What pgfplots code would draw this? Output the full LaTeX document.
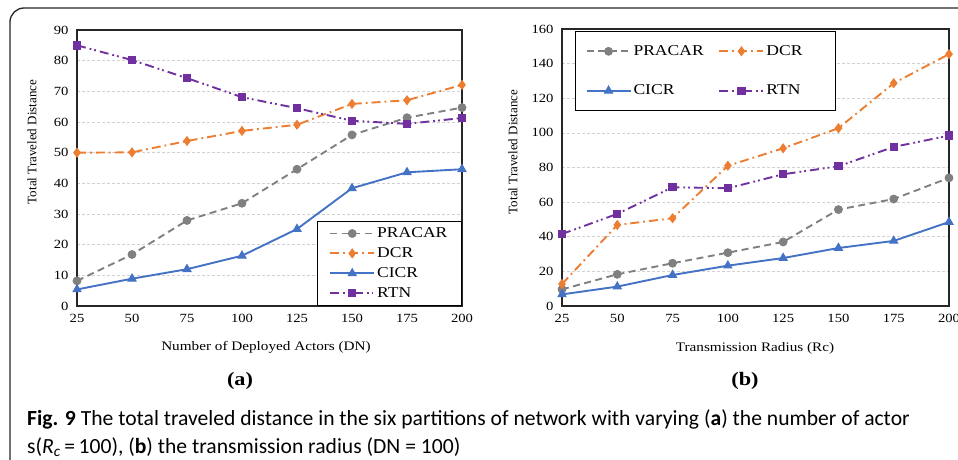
\documentclass[border=0pt]{standalone}
\usepackage{pgfplots}
\pgfplotsset{compat=1.18}
\usepackage{fontspec}
\setmainfont{Liberation Serif}
\newfontfamily\hfont[FakeStretch=1.17]{Liberation Serif}
\newfontfamily\capfont{Carlito}
\definecolor{cgray}{RGB}{128,128,128}
\definecolor{corange}{RGB}{237,125,49}
\definecolor{cblue}{RGB}{68,114,196}
\definecolor{cpurple}{RGB}{112,48,160}
\pgfplotsset{
 mystyle/.style={scale only axis, xmin=25, xmax=200, ymin=0,
   xtick={25,50,...,200}, ymajorgrids,
   grid style={dash pattern=on 3pt off 2pt, black!18, line width=0.6pt},
   major tick length=0, axis line style={line width=1.2pt, black!85},
   tick label style={font=\hfont\fontsize{12.5}{14}\selectfont, /pgf/number format/assume math mode=true},
   xticklabel style={yshift=-5pt}, yticklabel style={xshift=-5pt},
   clip=false,
   legend image code/.code={\draw[mark repeat=2,mark phase=2] plot coordinates {(0pt,0pt)(22pt,0pt)(44pt,0pt)};},
   legend cell align=left},
 sPR/.style={cgray, line width=1.9pt, dash pattern=on 7pt off 4.5pt, mark=*, mark size=3.9pt, mark options={solid, fill=cgray, line width=1pt}},
 sDC/.style={corange, line width=1.9pt, dash pattern=on 9pt off 4pt on 1.8pt off 4pt, mark=diamond*, mark size=4.3pt, mark options={solid, fill=corange, line width=1pt}},
 sCI/.style={cblue, line width=1.9pt, solid, mark=triangle*, mark size=4.6pt, mark options={solid, fill=cblue, line width=1pt}},
 sRT/.style={cpurple, line width=1.9pt, dash pattern=on 9pt off 4pt on 1.8pt off 3pt on 1.8pt off 4pt, mark=square*, mark size=3.7pt, mark options={solid, fill=cpurple, line width=1pt}},
}
\begin{document}
\begin{tikzpicture}
\useasboundingbox (0pt,0pt) rectangle (958pt,459pt);
\clip (0pt,0pt) rectangle (958pt,459pt);
\draw[line width=1.3pt, black!85, rounded corners=14pt] (10pt,-40pt) -- (10pt,451pt) -- (1000pt,451pt);

% ---------- panel (a)
\begin{axis}[mystyle, at={(77pt,153pt)}, anchor=south west, width=385pt, height=276pt,
  ymax=90, ytick={0,10,...,90},
  legend style={at={(1,0)}, anchor=south east, draw=black, line width=1.2pt, fill=white,
    font=\hfont\fontsize{15}{17}\selectfont, row sep=4.5pt, inner xsep=12pt, inner ysep=4.5pt}]
\addplot[sPR] coordinates {(25,8.2)(50,16.8)(75,27.9)(100,33.5)(125,44.6)(150,55.8)(175,61.4)(200,64.7)};
\addlegendentry{PRACAR}
\addplot[sDC] coordinates {(25,50)(50,50.1)(75,53.8)(100,57.1)(125,59.1)(150,65.9)(175,67.1)(200,72.1)};
\addlegendentry{DCR}
\addplot[sCI] coordinates {(25,5.4)(50,8.9)(75,12)(100,16.4)(125,25.1)(150,38.4)(175,43.6)(200,44.6)};
\addlegendentry{CICR}
\addplot[sRT] coordinates {(25,85)(50,80.2)(75,74.3)(100,68.1)(125,64.5)(150,60.4)(175,59.4)(200,61.3)};
\addlegendentry{RTN}
\end{axis}

% ---------- panel (b)
\begin{axis}[mystyle, at={(562pt,153pt)}, anchor=south west, width=387pt, height=277pt,
  ymax=160, ytick={0,20,...,160},
  legend columns=2,
  legend style={at={(0,1)}, anchor=north west, xshift=13pt, yshift=-2pt, draw=black, line width=1.2pt, fill=white,
    font=\hfont\fontsize{15}{17}\selectfont, row sep=24pt, inner xsep=10pt, inner ysep=12pt}]
\addplot[sPR] coordinates {(25,9.6)(50,18.3)(75,24.7)(100,30.8)(125,37)(150,55.7)(175,61.8)(200,74)};
\addlegendentry{\makebox[83pt][l]{PRACAR}}
\addplot[sDC] coordinates {(25,12.7)(50,46.8)(75,50.7)(100,81)(125,91.1)(150,102.7)(175,128.7)(200,145.5)};
\addlegendentry{\makebox[57pt][l]{DCR}}
\addplot[sCI] coordinates {(25,6.7)(50,11.2)(75,17.9)(100,23.3)(125,27.7)(150,33.5)(175,37.6)(200,48.5)};
\addlegendentry{\makebox[83pt][l]{CICR}}
\addplot[sRT] coordinates {(25,41.6)(50,53.2)(75,68.6)(100,68)(125,76.1)(150,80.7)(175,91.9)(200,98.4)};
\addlegendentry{\makebox[57pt][l]{RTN}}
\end{axis}

% ---------- labels
\node[rotate=90, font=\fontsize{13}{15}\selectfont] at (32pt,317pt) {Total Traveled Distance};
\node[rotate=90, font=\fontsize{13}{15}\selectfont] at (513pt,307pt) {Total Traveled Distance};
\node[font=\hfont\fontsize{13}{15}\selectfont] at (266pt,112pt) {Number of Deployed Actors (DN)};
\node[font=\hfont\fontsize{13}{15}\selectfont] at (755pt,111pt) {Transmission Radius (Rc)};
\node[font=\hfont\bfseries\fontsize{19}{21}\selectfont] at (240pt,78pt) {(a)};
\node[font=\hfont\bfseries\fontsize{19}{21}\selectfont] at (745pt,78pt) {(b)};

% ---------- caption
\node[anchor=base west, inner sep=0pt, font=\capfont\fontsize{21.6}{25}\selectfont] at (27pt,34pt)
  {\textbf{Fig. 9} The total traveled distance in the six partitions of network with varying (\textbf{a}) the number of actor};
\node[anchor=base west, inner sep=0pt, font=\capfont\fontsize{21.6}{25}\selectfont] at (27pt,6pt)
  {s(\textit{R}\textsubscript{\textit{c}}\,=\,100), (\textbf{b}) the transmission radius (DN = 100)};
\end{tikzpicture}
\end{document}
